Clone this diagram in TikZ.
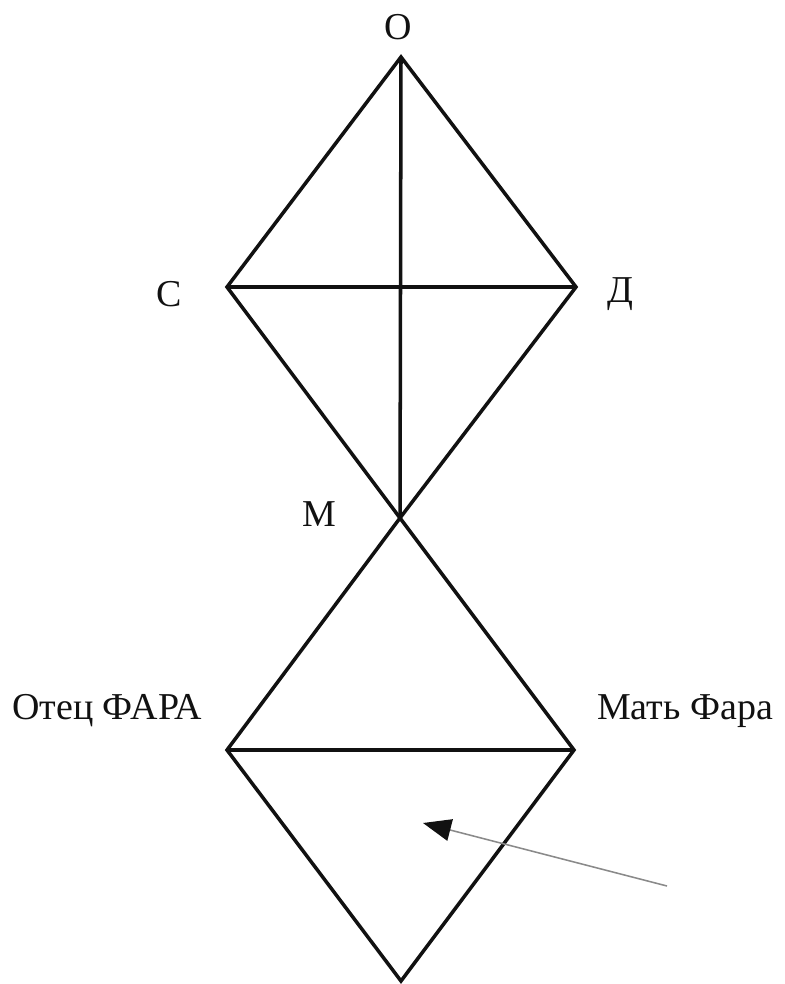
\documentclass[tikz,border=0pt]{standalone}
\usepackage{fontspec}
\setmainfont{Liberation Serif}
\usetikzlibrary{arrows.meta}
\definecolor{ink}{HTML}{111111}
\definecolor{pointer}{HTML}{8A8A8A}

\begin{document}
\begin{tikzpicture}[x=0.025cm,y=-0.025cm,
 edge/.style={ink,line width=2.5pt,line join=miter},
 tag/.style={font=\fontsize{27}{30}\selectfont,text=ink,inner sep=0pt},
 hint/.style={pointer,line width=1.1pt,-{Triangle[length=7mm,width=5.5mm,color=ink]}}]
 \useasboundingbox (0,0) rectangle (784,984);
 % vertices
 \coordinate (o) at (401,57); \coordinate (c) at (227,287);
 \coordinate (d) at (576,287); \coordinate (m) at (400,518);
 \coordinate (father) at (227,750); \coordinate (mother) at (574,750);
 \coordinate (base) at (401,981);
 % labels
 \node[tag] (lo) at (398,27) {О};
 \node[tag] (lc) at (169,294) {С};
 \node[tag] (ld) at (620,294) {Д};
 \node[tag] (lm) at (319,514) {М};
 \node[tag] (lfather) at (107,711) {Отец ФАРА};
 \node[tag] (lmother) at (685,711) {Мать Фара};
 % upper rhombus
 \draw[edge] (o) -- (c) -- (m) -- (d) -- cycle;
 \draw[edge] (o) -- (m); \draw[edge] (c) -- (d);
 % lower rhombus
 \draw[edge] (m) -- (father) -- (base) -- (mother) -- cycle;
 \draw[edge] (father) -- (mother);
 % pointer
 \coordinate (tail) at (667,886); \coordinate (tip) at (423,823);
 \draw[hint] (tail) -- (tip);
\end{tikzpicture}
\end{document}
